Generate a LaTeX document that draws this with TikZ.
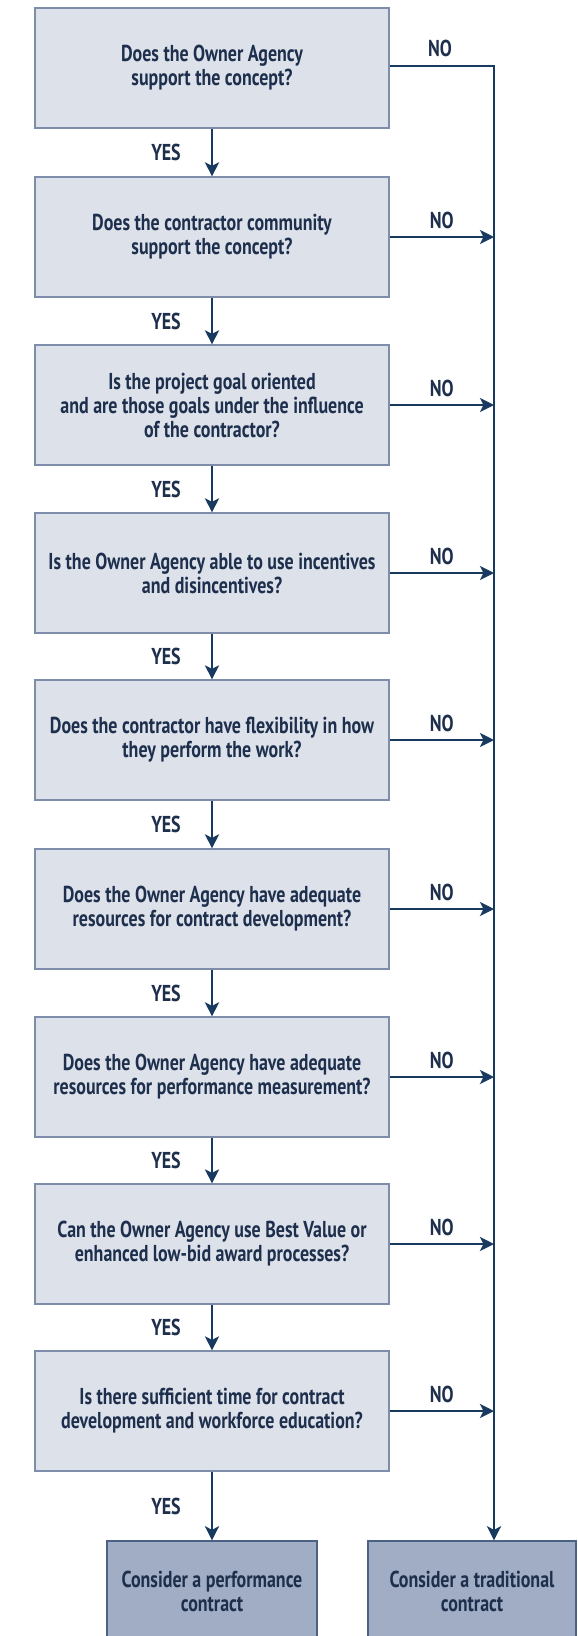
\documentclass[tikz,border=0pt]{standalone}
\usepackage{fontspec}
\usetikzlibrary{arrows.meta}
\newfontfamily\cond[FakeStretch=0.78]{PT Sans}

\definecolor{qfill}{HTML}{DDE1EA}
\definecolor{qborder}{HTML}{7E8EAA}
\definecolor{ffill}{HTML}{A0ADC4}
\definecolor{fborder}{HTML}{4C6284}
\definecolor{ink}{HTML}{1D2F4C}
\definecolor{navy}{HTML}{173A5E}

\begin{document}
\begin{tikzpicture}[x=1pt,y=-1pt,
  question/.style={draw=qborder, fill=qfill, line width=1.2pt,
    minimum width=354pt, minimum height=120pt, inner sep=0pt,
    align=center, text=ink, font=\cond\bfseries\fontsize{23}{24}\selectfont},
  outcome/.style={draw=fborder, fill=ffill, line width=1.4pt,
    minimum height=100pt, inner sep=0pt,
    align=center, text=ink, font=\cond\bfseries\fontsize{23}{24}\selectfont},
  answer/.style={text=ink, inner sep=0pt, font=\cond\bfseries\fontsize{23}{23}\selectfont},
  wire/.style={draw=navy, line width=2.9pt},
  flow/.style={wire, -{Stealth[length=14pt,width=14pt,inset=3.5pt]}}]

\useasboundingbox (0,0) rectangle (578,1636);

% the chain of questions
\foreach \i/\y/\t in {
  1/68/{Does the Owner Agency\\support the concept?},
  2/237/{Does the contractor community\\support the concept?},
  3/405/{Is the project goal oriented\\and are those goals under the influence\\of the contractor?},
  4/573/{Is the Owner Agency able to use incentives\\and disincentives?},
  5/740/{Does the contractor have flexibility in how\\they perform the work?},
  6/909/{Does the Owner Agency have adequate\\resources for contract development?},
  7/1077/{Does the Owner Agency have adequate\\resources for performance measurement?},
  8/1244/{Can the Owner Agency use Best Value or\\enhanced low-bid award processes?},
  9/1411/{Is there sufficient time for contract\\development and workforce education?}}
  \node[question] (q\i) at (212,\y) {\t};

% the two outcomes
\node[outcome, minimum width=210pt] (perf) at (212,1591) {Consider a performance\\contract};
\node[outcome, minimum width=208pt] (trad) at (472,1591) {Consider a traditional\\contract};

% collecting line on the right
\coordinate (trunk) at (494,66);

% YES arrows down the chain
\foreach \i [evaluate=\i as \j using int(\i+1)] in {1,...,8}
  \draw[flow] (q\i.south) -- (q\j.north)
    node[answer, midway, xshift=-46pt] {YES};
\draw[flow] (q9.south) -- (perf.north)
  node[answer, midway, xshift=-46pt] {YES};

% NO branches
\draw[flow] (q1.east |- trunk) -- (trunk) -- (trunk |- trad.north);
\node[answer] (no1) at (440,48) {NO};
\foreach \i in {2,...,9}
  \draw[flow] (q\i.east) -- (q\i.east -| trunk)
    node[answer, midway, yshift=17pt] {NO};

\end{tikzpicture}
\end{document}
